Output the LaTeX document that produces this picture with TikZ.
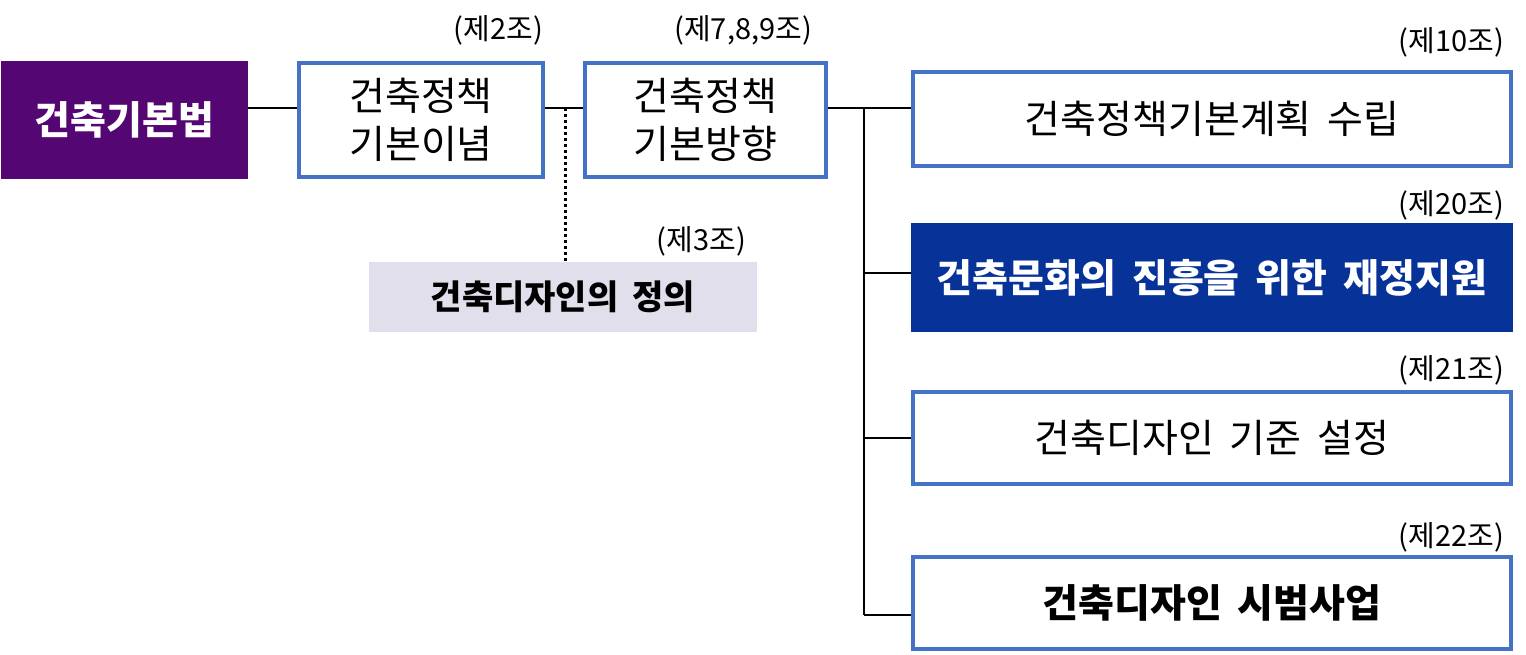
\documentclass[tikz,border=0pt]{standalone}
\usepackage{fontspec}
\setmainfont{Noto Sans CJK KR}[WordSpace=1.8]
\definecolor{lawpurple}{RGB}{84,6,114}
\definecolor{fundblue}{RGB}{7,51,153}
\definecolor{edgeblue}{RGB}{68,114,196}
\definecolor{defgrey}{RGB}{226,223,236}
\tikzset{
  box/.style={draw=edgeblue, line width=3.5pt, fill=white, inner sep=0pt, align=center, font=\fontsize{39}{48}\selectfont},
  solidbox/.style={inner sep=0pt, align=center, text=white, font=\fontsize{39}{48}\selectfont\bfseries},
  article/.style={anchor=east, inner sep=0pt, font=\fontsize{29}{32}\selectfont},
  link/.style={line width=2pt, black}
}
\begin{document}
\begin{tikzpicture}[x=1pt, y=-1pt]
  \useasboundingbox (0,0) rectangle (1526,654);
  % Left row: law, principle, direction
  \node[solidbox, fill=lawpurple, minimum width=247pt, minimum height=118pt] (law) at (124.5,120) {건축기본법};
  \node[box, minimum width=244pt, minimum height=114pt] (idea) at (421,120) {건축정책\\기본이념};
  \node[box, minimum width=241pt, minimum height=114pt] (direction) at (705.5,120) {건축정책\\기본방향};
  \node[inner sep=0pt, fill=defgrey, minimum width=388pt, minimum height=70pt, font=\fontsize{34}{38}\selectfont\bfseries] (define) at (563,297) {건축디자인의 정의};

  % Right column
  \node[box, minimum width=598pt, minimum height=94pt] (plan) at (1212,119) {건축정책기본계획 수립};
  \node[solidbox, fill=fundblue, minimum width=602pt, minimum height=109pt] (fund) at (1212,277.5) {건축문화의 진흥을 위한 재정지원};
  \node[box, minimum width=598pt, minimum height=92pt] (std) at (1212,438) {건축디자인 기준 설정};
  \node[box, minimum width=598pt, minimum height=92pt, font=\fontsize{39}{48}\selectfont\bfseries] (pilot) at (1212,603) {건축디자인 시범사업};

  % Article numbers
  \node[article] (a2) at (543,30) {(제2조)};
  \node[article] (a789) at (812,30) {(제7,8,9조)};
  \node[article] (a3) at (746,241) {(제3조)};
  \node[article] (a10) at (1504,42) {(제10조)};
  \node[article] (a20) at (1504,205) {(제20조)};
  \node[article] (a21) at (1504,370) {(제21조)};
  \node[article] (a22) at (1504,537) {(제22조)};

  % Connectors
  \coordinate (dot) at (565,108);
  \coordinate (trunk) at (864,108);
  \draw[link] (law.east |- dot) -- (idea.west |- dot);
  \draw[link] (idea.east |- dot) -- (direction.west |- dot);
  \draw[line width=3pt, dash pattern=on 3pt off 3pt] (dot) -- (define.north -| dot); % Definition
  \draw[link] (direction.east |- trunk) -- (plan.west |- trunk);
  \draw[link] (trunk) -- (864,615);
  \foreach \n/\y in {fund/273, std/438, pilot/615} {
    \draw[link] (864,\y) -- (\n.west |- 0,\y);
  }
\end{tikzpicture}
\end{document}
